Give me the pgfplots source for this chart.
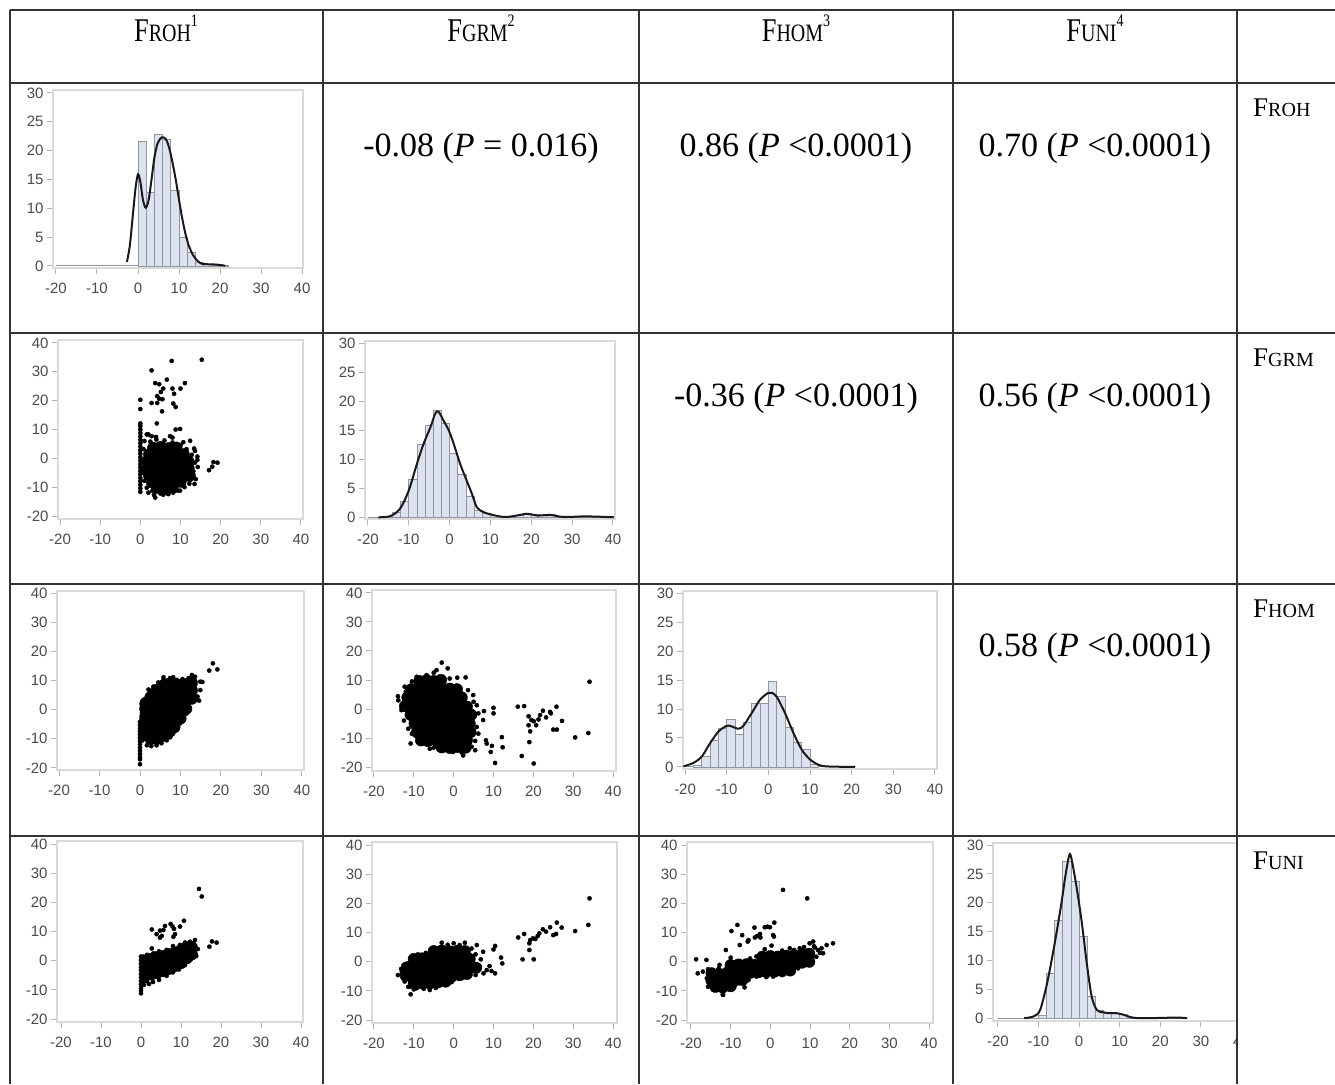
\documentclass[border=0pt]{standalone}
\usepackage{pgfplots}
\pgfplotsset{compat=1.18}
\usepackage{graphicx}
\usepackage{fontspec}
\setmainfont{Liberation Serif}
\newfontfamily\ticksf{Liberation Sans}

\definecolor{rule}{HTML}{333333}
\definecolor{boxgray}{HTML}{DADADA}
\definecolor{tickgray}{HTML}{B4B4B4}
\definecolor{labgray}{HTML}{4A4A4A}
\definecolor{barfill}{HTML}{DCE2EE}
\definecolor{baredge}{HTML}{8E96A4}

\newcommand\smc[1]{{\fontsize{20}{20}\selectfont #1}}

\pgfplotsset{
  cell/.style={scale only axis, anchor=south west,
    axis line style={boxgray, line width=1.2pt},
    tick align=outside, tick pos=left,
    major tick length=6pt,
    tick style={tickgray, line width=1pt},
    xtick={-20,-10,...,40}, xticklabels={-20,-10,0,10,20,30,40},
    tick label style={font=\ticksf\fontsize{15}{16}\selectfont, text=labgray},
    xticklabel style={yshift=-5pt},
  },
  hist/.style={cell, ytick={0,5,...,30}, yticklabels={0,5,10,15,20,25,30}},
  scat/.style={cell, ytick={-20,-10,...,40}, yticklabels={-20,-10,0,10,20,30,40}},
  dots/.style={only marks, mark=*, mark size=2.1pt, black},
  core/.style={only marks, mark=*, mark size=5.8pt, black},
  bars/.style={ybar interval, fill=barfill, draw=baredge, line width=0.7pt},
  base/.style={baredge, line width=1pt},
  dens/.style={smooth, black!90, line width=2pt, mark=none},
}

\begin{document}
\begin{tikzpicture}
\useasboundingbox (0,0) rectangle (1335pt,-1084pt);

% ---------- histograms on the diagonal ----------
% F_ROH
\begin{axis}[hist, at={(53pt,-268pt)}, width=250pt, height=178pt,
  xmin=-20.73, xmax=40.24, ymin=-0.35, ymax=30.52]
\addplot[base] coordinates {(-20,0) (22,0)};
\addplot[bars] coordinates {(0,21.7)(2,12.7)(4,22.9)(6,22)(8,13.2)(10,4.9)(12,2.3)(14,0.6)(16,0.2)(18,0.1)(20,0.1)(22,0)};
\addplot[dens] coordinates {(-2.7,0.7)(-2,3.5)(-1.3,8.5)(-0.6,13.5)(0,15.9)(0.6,14.5)(1.2,11.5)(1.9,10.1)(2.6,11.5)(3.3,15)(4,18.8)(4.8,21.3)(5.8,22.3)(6.8,22)(7.6,20.5)(8.4,18)(9.2,15)(10,11.5)(10.8,8.2)(11.6,5.5)(12.5,3.3)(13.5,1.8)(14.5,0.9)(15.5,0.4)(17,0.3)(19,0.25)(21.3,0.05)};
\end{axis}

% F_GRM
\begin{axis}[hist, at={(365pt,-519pt)}, width=250pt, height=178pt,
  xmin=-20.7, xmax=40.5, ymin=-0.3, ymax=30.4]
\addplot[base] coordinates {(-20,0) (40,0)};
\addplot[bars] coordinates {(-16,0.2)(-14,0.8)(-12,2.8)(-10,6.5)(-8,12.5)(-6,15.8)(-4,18.5)(-2,16.2)(0,11)(2,7.4)(4,3.6)(6,1.2)(8,0.6)(10,0.3)(12,0.1)(14,0.2)(16,0.4)(18,0.6)(20,0.5)(22,0.3)(24,0.5)(26,0.2)(28,0.1)(30,0.1)(32,0.2)(34,0.1)(36,0)};
\addplot[dens] coordinates {(-17.4,0)(-14.5,0.2)(-12.1,1.5)(-10,4.6)(-8,9.2)(-6.4,12.6)(-4.7,15.5)(-3.5,17.9)(-2.7,18.2)(-1.5,16.7)(-0.2,15)(1,12.7)(2.6,9.2)(4.2,6.3)(5.5,4)(6.7,1.7)(8.3,0.9)(10,0.5)(13.2,0.05)(15.7,0.2)(19,0.6)(21.4,0.3)(24.7,0.4)(27.9,0.05)(33.6,0.15)(40.2,0)};
\end{axis}

% F_HOM
\begin{axis}[hist, at={(683pt,-769pt)}, width=254pt, height=178pt,
  xmin=-20.5, xmax=40.5, ymin=-0.35, ymax=30.35]
\addplot[base] coordinates {(-20,0) (21,0)};
\addplot[bars] coordinates {(-18,0.3)(-16,1.8)(-14,4.6)(-12,6.7)(-10,8.2)(-8,5.6)(-6,7.7)(-4,11)(-2,11)(0,14.8)(2,12.2)(4,6.8)(6,4.3)(8,3)(10,0.4)(12,0)};
\addplot[dens] coordinates {(-20.4,0.1)(-18,0.7)(-16,1.8)(-14,4.1)(-12,6.1)(-10,7.1)(-8.8,7)(-7.2,6.6)(-6,7.1)(-4,9.3)(-2,11.6)(0,12.8)(0.8,12.8)(2,12.1)(4,9.3)(6,5.9)(8,3)(10,1.3)(12,0.4)(14,0.1)(20.8,0)};
\end{axis}

% F_UNI (cut off by the cell rule on the right)
\begin{scope}
\clip (953pt,-836pt) rectangle (1237pt,-1084pt);
\begin{axis}[hist, at={(993pt,-1021pt)}, width=250.5pt, height=178pt,
  xmin=-21.2, xmax=40.5, ymin=-0.5, ymax=30.35]
\addplot[base] coordinates {(-20,0) (26.6,0)};
\addplot[bars] coordinates {(-10,0.4)(-8,7.7)(-6,17)(-4,27.2)(-2,23.7)(0,14.1)(2,3.8)(4,1.4)(6,0.9)(8,0.8)(10,0.6)(12,0.2)(14,0.05)(16,0)};
\addplot[dens] coordinates {(-13.5,0)(-11.2,0.3)(-9.6,1.4)(-7.9,6)(-6.3,11.8)(-4.6,18.8)(-3.4,24.5)(-2.4,28.3)(-1.8,27.4)(-0.5,22.2)(0.7,16.4)(1.9,9.5)(3.1,3.75)(4.4,1.4)(6,1)(7.7,0.85)(9.3,0.85)(10.9,0.6)(12.6,0.2)(14.2,0.02)(19.1,0.02)(24,0.1)(26.6,0)};
\end{axis}
\end{scope}

% ---------- scatter plots below the diagonal ----------
% F_ROH vs F_GRM
\begin{axis}[scat, at={(58pt,-519pt)}, width=245pt, height=179pt,
  xmin=-20.5, xmax=40.5, ymin=-21.04, ymax=41.04]
\addplot[dots] coordinates {(0,-11.6)(0,-10.4)(0,-9.2)(0,-8)(0,-6.8)(0,-5.6)(0,-4.4)(0,-3.2)(0,-2)(0,-0.8)(0,0.4)(0,1.6)(0,2.8)(0,4)(0,5.2)(0,6.4)(0,7.6)(0,8.8)(0,10)(0,11.2)(0,12.1)(0,17.1)(0,20.3)};
\addplot[core] coordinates {(3.2,3.6)(5.1,3.9)(7,3.5)(9,3.7)
 (2.2,1.3)(3.8,1.6)(5.6,1.1)(7.4,1.5)(9.2,1.2)(10.8,1.4)
 (1.8,-1)(3.3,-0.8)(5.1,-1.2)(6.9,-0.9)(8.7,-1.1)(10.5,-0.8)(12,-1.2)
 (1.8,-3.5)(3.3,-3.7)(5.1,-3.4)(6.9,-3.6)(8.7,-3.3)(10.5,-3.6)(12,-3.4)
 (2.2,-6)(3.8,-6.2)(5.6,-5.9)(7.4,-6.1)(9.2,-5.8)(11,-6.2)(12.3,-6)
 (2.9,-8.3)(4.6,-8.5)(6.4,-8.2)(8.2,-8.4)(10,-8.1)
 (4.2,-10.2)(6,-10.4)(8,-10.1)};
\addplot[dots] coordinates {(1,6)(2.5,5.8)(4,6.5)(6,6.2)(8,5.5)(10,4.6)(11.5,3.2)(12.8,1.2)(13.6,-1.5)(13.2,-4.5)(13.8,-7.2)(12.2,-8.8)(11,-10)(9.3,-11.2)(7,-12.4)(5,-12.2)(3,-11.2)(1.6,-10.2)(1,-7.8)(0.8,3.2)(14.3,-3)(14.2,0.6)(0.8,-5)(2,8.3)(2.8,7.7)(3.9,7.4)(7.4,7.7)(8,7.2)(12.4,6.1)(10.7,5.6)(13.4,3.4)(13.6,2.6)(14.2,-0.6)(13.5,-8.9)(12.4,-7.5)(2,-11.9)(3.4,-12.7)(3.7,-13.6)(5.7,-12.6)(6.6,-12.1)(8.2,-11.9)(9.9,-11.2)
 (7.8,33.8)(15.3,34.2)(2.8,30.5)(6.6,27.3)(3.7,26.1)(4.7,25.7)(11.1,26.1)(5.7,24.2)(8,24.2)(10,24.2)(5.1,23)(8.4,22.4)(4.2,21.6)(4.7,20.7)(5.5,20.5)(2.8,19.2)(4.2,19.2)(8.2,19)(8.8,17.8)(5.4,16.3)(4.1,12.1)(8.8,10)(9.9,10.2)(1.6,8.3)(18.2,-1.3)(19.2,-1.5)(17.1,-4.1)(17.9,-2.9)};
\end{axis}

% F_ROH vs F_HOM
\begin{axis}[scat, at={(57pt,-770pt)}, width=247pt, height=179pt,
  xmin=-20.5, xmax=40.5, ymin=-20.69, ymax=40.69]
\addplot[dots] coordinates {(0,-4.2)(0,-5.3)(0,-6.4)(0,-7.5)(0,-8.6)(0,-9.7)(0,-10.8)(0,-11.9)(0,-13)(0,-14.1)(0,-15.2)(0,-16.3)(0,-17)(0,-18.7)};
\addplot[core] coordinates {(1.3,-8.5)(1.3,-5.5)(1.3,-2.5)(1.3,0.3)(1.4,2.3)
 (2.6,-10)(2.6,-7)(2.6,-4)(2.6,-1)(2.6,2)(2.6,4.3)
 (4,-10)(4,-7)(4,-4)(4,-1)(4,2)(4,4.7)(4.2,6.8)
 (5.5,-9)(5.5,-6)(5.5,-3)(5.5,0)(5.5,3)(5.5,5.7)(5.6,8.2)
 (7,-8)(7,-5)(7,-2)(7,1)(7,4)(7,6.8)(7,8.8)
 (8.5,-6)(8.5,-3)(8.5,0)(8.5,3)(8.5,6)(8.5,8.5)
 (10,-3)(10,0)(10,3)(10,6)(10,8.5)
 (11.4,0.3)(11.4,3.2)(11.4,6)(11.4,8.7)
 (12.8,3.8)(12.8,6.6)(12.8,9.2)};
\addplot[dots] coordinates {(0.4,-3.6)(0.5,-1)(0.6,1.5)(1.7,4.4)(2.5,6.5)(3.3,7.9)(4.5,9.3)(5.8,10.2)(7.4,10.8)(9.1,10.2)(10.5,10.5)(12,10.8)(13.6,11.3)(14.9,9.6)(14.9,6.7)(14.2,4.5)(13.2,2.7)(12.3,0.6)(11.5,-1.3)(10.7,-3)(9.9,-4.7)(9,-6.5)(8.2,-8.2)(7.4,-9.5)(6.6,-10.5)(5.3,-11.5)(4.1,-12.2)(2.8,-12.5)(1.7,-12.2)(0.5,-8.2)(0.6,-10.5)(0.5,-6)
 (17.1,13.4)(18,15.9)(19.1,13.8)(15.4,9.5)(14.6,3.1)(7.7,-8.4)(2.1,6.9)(0.4,1.9)(12.8,11.9)(5.8,11.1)(8.2,11.1)};
\end{axis}

% F_ROH vs F_UNI
\begin{axis}[scat, at={(57pt,-1022pt)}, width=246pt, height=181pt,
  xmin=-21, xmax=40.5, ymin=-21.03, ymax=41.03]
\addplot[dots] coordinates {(0,1.4)(0,0.2)(0,-1)(0,-2.2)(0,-3.4)(0,-4.6)(0,-5.8)(0,-7)(0,-8.2)(0,-9.4)(0,-10.3)(0,-11.2)};
\addplot[core] coordinates {(1.3,-5)(1.3,-2.5)(1.3,0)
 (2.6,-4.7)(2.6,-2)(2.6,0.6)
 (4,-4.2)(4,-1.5)(4,1.2)
 (5.5,-3.6)(5.5,-1)(5.5,1.6)
 (7,-2.8)(7,-0.3)(7,2.2)
 (8.5,-1.8)(8.5,0.6)(8.5,2.8)
 (10,-0.8)(10,1.5)(10,3.6)
 (11.4,0.8)(11.4,2.8)(11.4,4.6)
 (12.7,2.2)(12.7,4.6)};
\addplot[dots] coordinates {(0.5,-7.5)(1.5,-7)(3,-7.3)(4.5,-6.6)(6.4,-5.2)(8,-4)(9.5,-3)(11,-1.5)(12.5,0.5)(13.8,1.6)(14.2,4)(13.5,7.1)(13.1,5.9)(12.25,6.5)(11,6.2)(9.75,5.4)(8,5)(6.4,3.7)(4.5,3.2)(3.1,2.5)(1.5,2)(0.6,1.4)(0.75,-8.3)(2,-8)(1,-3.5)
 (14.5,24.6)(15.2,22)(2.7,10.7)(3.9,9.1)(4.75,10.3)(5.2,8.5)(5.6,10.5)(4.75,7.9)(6,11.9)(7.4,12.6)(7.9,11.7)(8.25,10.9)(8.5,9.1)(8.1,8.2)(9.75,11.7)(10.75,13.7)(2.7,4.2)(17.1,4.8)(17.75,6.6)(18.9,6.2)};
\end{axis}

% F_GRM vs F_HOM
\begin{axis}[scat, at={(372pt,-771pt)}, width=244pt, height=181pt,
  xmin=-20.5, xmax=40.75, ymin=-21.38, ymax=41.03]
\addplot[core] coordinates {(-8.6,9.6)(-6.8,9.9)(-5,9.6)(-3.2,10)
 (-10.6,6.8)(-8.8,7)(-7,6.6)(-5,6.9)(-3,6.8)(-1,7)(0.8,6.8)
 (-11.6,4)(-10,4.2)(-8,3.8)(-6,4.1)(-4,4)(-2,4.2)(0,3.9)(2,4)
 (-12.2,1)(-10.5,1.2)(-8.5,0.8)(-6.5,1.1)(-4.5,1)(-2.5,0.9)(-0.5,1.2)(1.5,1)(3.3,0.8)
 (-10.8,-2)(-9,-1.8)(-7,-2.2)(-5,-2)(-3,-1.9)(-1,-2.1)(1,-2)(3,-1.8)(4.4,-2)
 (-9.8,-5)(-8,-5.2)(-6,-4.9)(-4,-5.1)(-2,-5)(0,-4.8)(2,-5.1)(4,-5)
 (-9.2,-8)(-7.5,-8.2)(-5.5,-7.9)(-3.5,-8.1)(-1.5,-8)(0.5,-8.2)(2.5,-7.9)(4.2,-8)
 (-8.2,-10.8)(-6.5,-11)(-4.5,-10.7)(-2.5,-10.8)(-0.5,-10.9)(1.5,-10.7)(3.3,-10.8)
 (-3,-13.2)(-1,-13.4)(1,-13.1)(3,-13.3)};
\addplot[dots] coordinates {(-14,4.4)(-12.3,7.7)(-10.5,9.5)(-9.3,11.1)(-6.8,11.7)(-4.3,13.4)(-3,16)(-1.5,14)(0.9,10.8)(3,10.9)(3.6,6.5)(4.9,4.8)(5.8,1.3)(6.2,-1.5)(5.8,-6.2)(6.2,-8.5)(5.4,-11)(5.4,-14.2)(2.4,-16)(-0.1,-14.8)(-2.6,-14.2)(-5,-13.3)(-6,-13.7)(-8.5,-11.9)(-10.8,-11.9)(-11.4,-6.8)(-10.5,-8.5)(-12.5,-4)(-13.1,-0.4)(-13.9,3)(-1,10.5)(-5,12.5)(2,-15)(4.5,-13)(5,2.5)(-12,6)
 (7.6,-0.7)(7.4,-3.8)(8.1,-10.8)(8.3,-11.9)(9.6,-12.7)(9.3,-14.8)(10.4,-18.6)(10,0.4)(10,-1.5)(12.1,-9.7)(12.3,-13.2)(16.1,0.8)(17.7,1)(17.1,-16.2)(20.1,-18.8)(19,-11.4)(18.8,-5.6)(19.2,-7.7)(18.8,-2.5)(19.5,-3.8)(20.1,-4.2)(20.7,-5.6)(21.3,-3.6)(21.7,-2.1)(22.4,-0.6)(23.2,-2.9)(24.2,-1)(24.4,-1.5)(25,-7.1)(25.9,-7.1)(25.8,0.8)(27.2,-4.1)(30.5,-9.8)(34.1,9.4)(33.8,-8.3)};
\end{axis}

% F_GRM vs F_UNI
\begin{axis}[scat, at={(372pt,-1023pt)}, width=245pt, height=181pt,
  xmin=-20.5, xmax=41, ymin=-21.03, ymax=41.03]
\addplot[core] coordinates {(-5,3.6)(-3,3.8)(-1,3.5)(1,3.7)(2.8,3.6)
 (-10,0.9)(-8,1.1)(-6,1)(-4,1.2)(-2,0.9)(0,1)(2,1.1)(4,0.9)
 (-11.8,-2)(-10,-1.8)(-8,-2.1)(-6,-2)(-4,-1.9)(-2,-2.1)(0,-2)(2,-1.8)(4,-2)(5.6,-2.1)
 (-12,-4.8)(-10.5,-5.1)(-8.5,-4.9)(-6.5,-5.1)(-4.5,-5)(-2.5,-4.9)(-0.5,-5.1)(1.5,-4.6)(3.3,-4.2)
 (-10,-7.3)(-8,-7.4)(-6,-7.4)(-4,-7.1)(-2,-6.8)};
\addplot[dots] coordinates {(-14,-4.6)(-13.2,-2.5)(-11.4,-0.6)(-8.5,1.7)(-7,3)(-5.1,4.5)(-3,6.5)(-1.5,5.8)(0,6.3)(1.5,5.7)(2.8,6.5)(4.5,4.5)(5.8,5.7)(5.5,2.5)(6.6,-1.7)(6.8,0.8)(8.3,-2.9)(7.5,-4)(9,-1.5)(10.4,-4)(9.5,-3.2)(5.5,-4.6)(1.6,-5.7)(-0.5,-7)(-2.6,-7.4)(-4.5,-9)(-6,-9.7)(-7.5,-9.3)(-8.5,-8)(-11,-8.6)(-12.3,-6.8)(-13,-3.5)(-10,-9.5)(3,-4.5)(-9,2.5)(-12,-1)
 (-11.4,-8.6)(-10.8,-11.2)(-9.3,-9.1)(10,4.2)(10.4,5.4)(11.9,1.4)(12.2,-0.6)(7.4,3.4)(16.2,8.3)(17.7,9.5)(17.3,0.8)(19,4)(19,6.3)(19.2,7.4)(19.9,8)(20.5,7.8)(20.1,0.8)(21.1,8.8)(21.5,9.7)(22.4,11.1)(23.2,10.3)(24.2,11.8)(25,9.1)(25.7,9.5)(25.9,13.4)(27.1,11.7)(30.5,10.5)(34.1,21.7)(33.8,12.6)};
\end{axis}

% F_HOM vs F_UNI
\begin{axis}[scat, at={(687pt,-1023pt)}, width=246pt, height=181pt,
  xmin=-21, xmax=41, ymin=-21.03, ymax=41.03]
\addplot[core] coordinates {(-2,1.7)(0,1.9)(2,1.7)(4,2)(6,2.2)(8,2.4)(9.8,2.7)
 (-10,-1.2)(-8,-1)(-6,-0.9)(-4,-1.1)(-2,-0.8)(0,-1)(2,-0.8)(4,-0.6)(6,-0.5)(8,-0.3)(9.8,0)
 (-14.8,-4)(-13,-4.2)(-11,-3.9)(-9,-4.1)(-7,-4)(-5,-3.8)(-3,-3.6)(-1,-3.5)(1,-3.4)(3,-3.2)(5,-3)
 (-14.8,-6.5)(-13,-6.7)(-11,-6.4)(-9,-6.5)(-7,-6.2)
 (-13.8,-8.6)(-12,-8.8)(-10,-8.4)};
\addplot[dots] coordinates {(-17,-3.4)(-16,-5.7)(-15.7,-8.6)(-14.4,-9.7)(-11.9,-11.4)(-10.6,-8.6)(-7.7,-7.4)(-5.5,-6.3)(-3.5,-5.1)(-1,-5.3)(0.7,-5.1)(3,-4.6)(4.9,-3.4)(7,-2.3)(9.1,-0.6)(11.6,1.7)(-15.7,-2.6)(-12.8,-1.1)(-10.2,-0.6)(-7.7,0)(-5.1,1.1)(-3.5,1.8)(-1.8,2.3)(1.6,2.9)(3,3.8)(4.9,4.6)(7.4,4.6)(6,4)(9.9,6.3)(10.8,6.9)(12,4)(12.5,3)(11,5.3)(8.5,5)(-8.5,-2)(-13,-2.3)
 (-18.7,0.8)(-18.3,-4)(-16.1,0.6)(-12,-11.2)(-11.2,4)(-10,1.4)(-9.8,10.5)(-8.3,12.6)(-7.1,9.1)(-7.7,5.7)(-6.5,-8.8)(-5.7,6.9)(-5.5,7.4)(-4,11.7)(-3.9,8.3)(-3.3,8.8)(-2.6,9.5)(-2.5,8.3)(-1.4,11.8)(-0.7,12)(-0.1,11.8)(0.7,9.1)(0.9,8.6)(1,13.4)(-1.4,4.3)(0.3,5.5)(3.2,24.6)(9.3,21.7)(12.9,4.6)(15.8,6.3)(14.2,5.7)(13.3,2.9)(11.2,4.9)};
\end{axis}

% ---------- table text ----------
\begin{scope}[x=1pt,y=-1pt]
\foreach \cx/\lab/\n in {166/ROH/1, 481/GRM/2, 796/HOM/3, 1095/UNI/4}
  \node[anchor=base, inner sep=0pt] at (\cx,41)
    {\fontsize{26.5}{28}\selectfont\scalebox{1}[1.25]{F\smc{\lab}\raisebox{12pt}{\fontsize{14}{14}\selectfont\n}}};
\foreach \y/\lab in {116/ROH, 366/GRM, 617/HOM, 869/UNI}
  \node[anchor=base west, inner sep=0pt] at (1253,\y)
    {\fontsize{27}{28}\selectfont F\smc{\lab}};
\newcommand\cor[1]{\fontsize{34}{36}\selectfont #1}
\node[anchor=base] at (481,156) {\cor{-0.08 (\textit{P} = 0.016)}};
\node[anchor=base] at (796,156) {\cor{0.86 (\textit{P} <0.0001)}};
\node[anchor=base] at (1095,156) {\cor{0.70 (\textit{P} <0.0001)}};
\node[anchor=base] at (796,406) {\cor{-0.36 (\textit{P} <0.0001)}};
\node[anchor=base] at (1095,406) {\cor{0.56 (\textit{P} <0.0001)}};
\node[anchor=base] at (1095,656) {\cor{0.58 (\textit{P} <0.0001)}};

% table rules
\foreach \y in {10,83,333,584,836}
  \draw[rule, line width=1.8pt] (10,\y) -- (1335,\y);
\foreach \x in {10,323,639,953,1237}
  \draw[rule, line width=1.8pt] (\x,10) -- (\x,1084);
\end{scope}
\end{tikzpicture}
\end{document}
